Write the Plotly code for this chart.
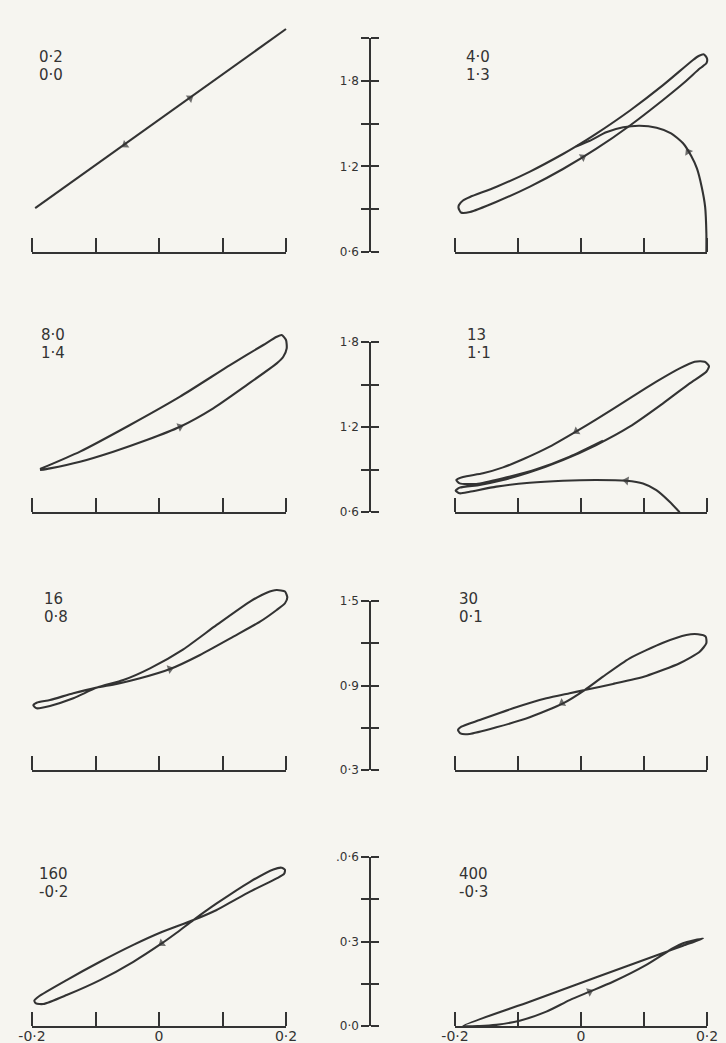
import plotly.graph_objects as go

# ---------------- data ----------------
# Row 1 left  (0·2 / 0·0)
r1l_x = [-0.195, 0.200]
r1l_y = [0.908, 2.163]
# Row 1 right (4·0 / 1·3): closed loop + starting transient arc
r1r_loop_x = [-0.1944, -0.1905, -0.1762, -0.1349, -0.0810, -0.0286, 0.0238, 0.0778, 0.1302, 0.1635, 0.1889,
              0.1990, 0.2000, 0.1952, 0.1867, 0.1778, 0.1302, 0.0778, 0.0238, -0.0079, -0.0286, -0.0810,
              -0.1349, -0.1762, -0.1873, -0.1937, -0.1944]
r1r_loop_y = [0.9084, 0.8769, 0.8804, 0.9505, 1.0584, 1.1818, 1.3220, 1.4867, 1.6654, 1.7860, 1.8876,
              1.9227, 1.9570, 1.9850, 1.9738, 1.9458, 1.7692, 1.5918, 1.4278, 1.3402, 1.2869, 1.1636,
              1.0556, 0.9855, 0.9610, 0.9294, 0.9084]
r1r_arc_x = [0.199, 0.199, 0.197, 0.1915, 0.184, 0.175, 0.162, 0.143, 0.120, 0.093, 0.067, 0.040, 0.014, -0.0079]
r1r_arc_y = [0.600, 0.731, 0.918, 1.058, 1.186, 1.273, 1.362, 1.432, 1.471, 1.485, 1.474, 1.439, 1.380, 1.3402]
# Row 2 left (8·0 / 1·4)
r2l_x = [-0.1874, -0.1244, -0.0457, 0.0331, 0.1118, 0.1643, 0.1854, 0.1932, 0.2000, 0.2011, 0.1957,
         0.1854, 0.1381, 0.0855, 0.0331, -0.0194, -0.0720, -0.1244, -0.1717, -0.1874]
r2l_y = [0.903, 1.026, 1.214, 1.414, 1.637, 1.779, 1.837, 1.849, 1.814, 1.755, 1.696,
         1.649, 1.496, 1.332, 1.202, 1.108, 1.026, 0.955, 0.908, 0.896]
# Row 2 right (13 / 1·1)
r2r_x = [0.1566, 0.1407, 0.1196, 0.0984, 0.0720, 0.0243, -0.0286, -0.0815, -0.1344, -0.1767, -0.1926, -0.1989,
         -0.1926, -0.1608, -0.1238, -0.0815, -0.0286, 0.0243, 0.0772, 0.1302, 0.1725, 0.1989, 0.2032, 0.1963,
         0.1804, 0.1566, 0.1196, 0.0772, 0.0243, -0.0074, -0.0497, -0.0921, -0.1238, -0.1556, -0.1873, -0.1979,
         -0.1926, -0.1661, -0.1238, -0.0709, -0.0180, 0.0349]
r2r_y = [0.598, 0.673, 0.755, 0.802, 0.821, 0.826, 0.821, 0.807, 0.779, 0.743, 0.732, 0.751,
         0.772, 0.791, 0.826, 0.880, 0.967, 1.073, 1.202, 1.367, 1.508, 1.590, 1.630, 1.661,
         1.661, 1.614, 1.520, 1.402, 1.254, 1.169, 1.061, 0.972, 0.915, 0.873, 0.847, 0.826,
         0.802, 0.798, 0.838, 0.901, 0.990, 1.103]
# Row 3 left (16 / 0·8)
r3l_x = [-0.0982, -0.0667, -0.0299, 0.0173, 0.0646, 0.1171, 0.1591, 0.1853, 0.1984, 0.2021, 0.1984, 0.1853,
         0.1696, 0.1433, 0.0908, 0.0383, -0.0142, -0.0562, -0.0982, -0.1349, -0.1717, -0.1927, -0.1979,
         -0.1927, -0.1717, -0.1349, -0.0982]
r3l_y = [0.885, 0.911, 0.951, 1.017, 1.117, 1.247, 1.353, 1.436, 1.484, 1.526, 1.567, 1.578,
         1.559, 1.496, 1.330, 1.157, 1.022, 0.939, 0.885, 0.809, 0.755, 0.738, 0.759,
         0.778, 0.797, 0.845, 0.885]
# Row 3 right (30 / 0·1)
r3r_x = [0.0058, -0.0286, -0.0815, -0.1344, -0.1767, -0.1915, -0.1952, -0.1899, -0.1608, -0.1079, -0.0550,
         -0.0180, 0.0058, 0.0508, 0.1037, 0.1566, 0.1884, 0.1989, 0.1979, 0.1857, 0.1672, 0.1302, 0.0772,
         0.0349, 0.0058]
r3r_y = [0.868, 0.773, 0.674, 0.603, 0.556, 0.560, 0.584, 0.608, 0.655, 0.738, 0.809,
         0.845, 0.868, 0.911, 0.968, 1.058, 1.140, 1.200, 1.247, 1.264, 1.259, 1.204, 1.093,
         0.963, 0.868]
# Row 4 left (160 / -0·2)
r4l_x = [0.0541, 0.0278, 0.0042, -0.0404, -0.0929, -0.1454, -0.1822, -0.1937, -0.1963, -0.1900, -0.1454,
         -0.0929, -0.0404, 0.0016, 0.0541, 0.0908, 0.1433, 0.1853, 0.1969, 0.1984, 0.1932, 0.1801, 0.1433,
         0.0908, 0.0541]
r4l_y = [0.376, 0.331, 0.293, 0.228, 0.163, 0.110, 0.078, 0.080, 0.090, 0.104, 0.163,
         0.228, 0.288, 0.331, 0.376, 0.412, 0.477, 0.524, 0.540, 0.554, 0.562, 0.556, 0.512,
         0.435, 0.376]
# Row 4 right (400 / -0·3)
r4r_x = [-0.1873, -0.0815, 0.0243, 0.1302, 0.1619, 0.1937, 0.1619, 0.1460, 0.1037, 0.0508, 0.0138, -0.0180,
         -0.0550, -0.0974, -0.1344, -0.1608, -0.1873]
r4r_y = [0.000, 0.086, 0.173, 0.259, 0.285, 0.311, 0.294, 0.276, 0.217, 0.157, 0.122, 0.092,
         0.051, 0.019, 0.004, 0.000, 0.000]

# arrow heads: (tail x, tail y, tip x, tip y) per panel
arrows_r1l = [(0.030, 1.619, 0.049, 1.679), (-0.035, 1.409, -0.0535, 1.350)]
arrows_r1r = [(0.176, 1.260, 0.170, 1.303), (-0.0286, 1.1818, 0.003, 1.265)]
arrows_r2l = [(-0.0194, 1.108, 0.0331, 1.202)]
arrows_r2r = [(0.0984, 0.802, 0.072, 0.821), (0.0243, 1.254, -0.0074, 1.169)]
arrows_r3l = [(-0.0299, 0.951, 0.0173, 1.017)]
arrows_r3r = [(0.0058, 0.868, -0.030, 0.775)]
arrows_r4l = [(0.0278, 0.331, 0.0042, 0.293)]
arrows_r4r = [(-0.018, 0.092, 0.0138, 0.122)]

# panel captions (two lines each)
cap_top = ["0·2", "4·0", "8·0", "13", "16", "30", "160", "400"]
cap_bot = ["0·0", "1·3", "1·4", "1·1", "0·8", "0·1", "-0·2", "-0·3"]

# y-axis ticks per row
y_ticks = [[0.6, 0.9, 1.2, 1.5, 1.8, 2.1], [0.6, 0.9, 1.2, 1.5, 1.8],
           [0.3, 0.6, 0.9, 1.2, 1.5], [0.0, 0.15, 0.3, 0.45, 0.6]]
y_labels = [["0·6", "", "1·2", "", "1·8", ""], ["0·6", "", "1·2", "", "1·8"],
            ["0·3", "", "0·9", "", "1·5"], ["0·0", "", "0·3", "", ".0·6"]]
x_ticks = [-0.2, -0.1, 0.0, 0.1, 0.2]
x_labels = ["-0·2", "", "0", "", "0·2"]

# ---------------- layout geometry (pixels) ----------------
W, H = 726, 1043
INK = "#333333"
BG = "#f6f5f0"
FONT = "DejaVu Sans"
ROWS = [
    dict(top=38, bot=252, lo=0.6, hi=2.1, band=(0, 262)),
    dict(top=342, bot=512, lo=0.6, hi=1.8, band=(262, 522)),
    dict(top=601, bot=770, lo=0.3, hi=1.5, band=(522, 782)),
    dict(top=857, bot=1026, lo=0.0, hi=0.6, band=(782, 1043)),
]
XL, XR = (32, 286), (455, 707)
XBAND_L, XBAND_R = (0, 340), (385, 726)
YAXIS_X = 370
PAD = 3  # extra pixels so that end ticks drawn "inside" are not dropped
CAP_POS = [(37, 66), (464, 66), (39, 344), (465, 344), (42, 608), (457, 608), (37, 883), (457, 883)]

panel_curves = [
    ([(r1l_x, r1l_y)], arrows_r1l), ([(r1r_loop_x, r1r_loop_y), (r1r_arc_x, r1r_arc_y)], arrows_r1r),
    ([(r2l_x, r2l_y)], arrows_r2l), ([(r2r_x, r2r_y)], arrows_r2r),
    ([(r3l_x, r3l_y)], arrows_r3l), ([(r3r_x, r3r_y)], arrows_r3r),
    ([(r4l_x, r4l_y)], arrows_r4l), ([(r4r_x, r4r_y)], arrows_r4r),
]


def xk(n): return "xaxis" if n == 1 else f"xaxis{n}"
def yk(n): return "yaxis" if n == 1 else f"yaxis{n}"
def xr(n): return "x" if n == 1 else f"x{n}"
def yr(n): return "y" if n == 1 else f"y{n}"
def lin(p, p0, p1, v0, v1): return v0 + (p - p0) * (v1 - v0) / (p1 - p0)


fig = go.Figure()
layout = dict(template="none", width=W, height=H, margin=dict(l=0, r=0, t=0, b=0, pad=0),
              paper_bgcolor=BG, plot_bgcolor="rgba(0,0,0,0)", showlegend=False,
              font=dict(family=FONT, color=INK))
annotations = []
base_ax = dict(showgrid=False, zeroline=False, fixedrange=True, automargin=False)

for i, R in enumerate(ROWS):
    n0 = 6 * i
    xdL, xdR, xlL, xlR, xtL, xtR = n0 + 1, n0 + 2, n0 + 3, n0 + 4, n0 + 5, n0 + 6
    yd, yo, yi = 3 * i + 1, 3 * i + 2, 3 * i + 3
    top, bot, lo, hi = R["top"], R["bot"], R["lo"], R["hi"]
    bt, bb = R["band"]
    # invisible data axes (wide, so curves are never clipped)
    layout[yk(yd)] = dict(base_ax, domain=[1 - bb / H, 1 - bt / H],
                          range=[lin(bb, bot, top, lo, hi), lin(bt, bot, top, lo, hi)],
                          visible=False, anchor=xr(xdL))
    for n, (p0, p1), (b0, b1) in [(xdL, XL, XBAND_L), (xdR, XR, XBAND_R)]:
        layout[xk(n)] = dict(base_ax, domain=[b0 / W, b1 / W],
                             range=[lin(b0, p0, p1, -0.2, 0.2), lin(b1, p0, p1, -0.2, 0.2)],
                             visible=False, anchor=yr(yd))
    # y axis: line + outside ticks + labels
    layout[yk(yo)] = dict(base_ax, domain=[1 - bot / H, 1 - top / H], range=[lo, hi],
                          anchor="free", position=YAXIS_X / W, showline=True, linecolor=INK, linewidth=1.5,
                          tickmode="array", tickvals=y_ticks[i], ticktext=y_labels[i], ticks="outside",
                          tickcolor=INK, tickwidth=1.5, ticklen=8,
                          tickfont=dict(family=FONT, size=12, color=INK))
    # y axis: inside half of the crossing ticks (slightly wider domain)
    layout[yk(yi)] = dict(base_ax, domain=[1 - (bot + PAD) / H, 1 - (top - PAD) / H],
                          range=[lin(bot + PAD, bot, top, lo, hi), lin(top - PAD, bot, top, lo, hi)],
                          anchor="free", position=YAXIS_X / W, showline=False,
                          tickmode="array", tickvals=y_ticks[i], ticks="inside", showticklabels=False,
                          tickcolor=INK, tickwidth=1.5, ticklen=8)
    for nl, nt, (p0, p1) in [(xlL, xtL, XL), (xlR, xtR, XR)]:
        layout[xk(nl)] = dict(base_ax, domain=[p0 / W, p1 / W], range=[-0.2, 0.2], anchor=yr(yo),
                              showline=True, linecolor=INK, linewidth=1.5, ticks="",
                              showticklabels=False)
        layout[xk(nt)] = dict(base_ax, domain=[(p0 - PAD) / W, (p1 + PAD) / W],
                              range=[lin(p0 - PAD, p0, p1, -0.2, 0.2), lin(p1 + PAD, p0, p1, -0.2, 0.2)],
                              anchor=yr(yo), showline=False, ticks="inside", ticklen=14,
                              tickwidth=1.5, tickcolor=INK, tickmode="array", tickvals=x_ticks,
                              ticktext=x_labels, showticklabels=(i == 3),
                              tickfont=dict(family=FONT, size=14, color=INK))
    for xa, ya in [(xlL, yo), (xlR, yo), (xtL, yo), (xtR, yo), (xlL, yi)]:
        fig.add_trace(go.Scatter(x=[None], y=[None], xaxis=xr(xa), yaxis=yr(ya),
                                 hoverinfo="skip", showlegend=False))
    for side, xa in enumerate([xdL, xdR]):
        curves, arrows = panel_curves[2 * i + side]
        for cx, cy in curves:
            fig.add_trace(go.Scatter(x=cx, y=cy, mode="lines", xaxis=xr(xa), yaxis=yr(yd),
                                     line=dict(color=INK, width=2.1, shape="spline", smoothing=0.6),
                                     hoverinfo="skip", showlegend=False))
        for tx, ty, hx, hy in arrows:
            fig.add_trace(go.Scatter(x=[tx, hx], y=[ty, hy], mode="markers", xaxis=xr(xa), yaxis=yr(yd),
                                     marker=dict(symbol="triangle-up", size=[0, 8], color=INK,
                                                 angleref="previous", line=dict(width=0)),
                                     hoverinfo="skip", showlegend=False))

# two-line captions: base font sets the line spacing, the span sets the glyph size
for k, (px, py) in enumerate(CAP_POS):
    txt = (f'<span style="font-size:15px">{cap_top[k]}</span><br>'
           f'<span style="font-size:15px">{cap_bot[k]}</span>')
    annotations.append(dict(text=txt, x=px / W, y=1 - py / H, xref="paper", yref="paper",
                            xanchor="left", yanchor="middle", align="left", showarrow=False,
                            font=dict(family=FONT, size=13.5, color=INK)))

layout["annotations"] = annotations
fig.update_layout(**layout)
fig.write_html("out.html", config={"displayModeBar": False},
               post_script="document.body.style.margin='0px';document.body.style.overflow='hidden';")
